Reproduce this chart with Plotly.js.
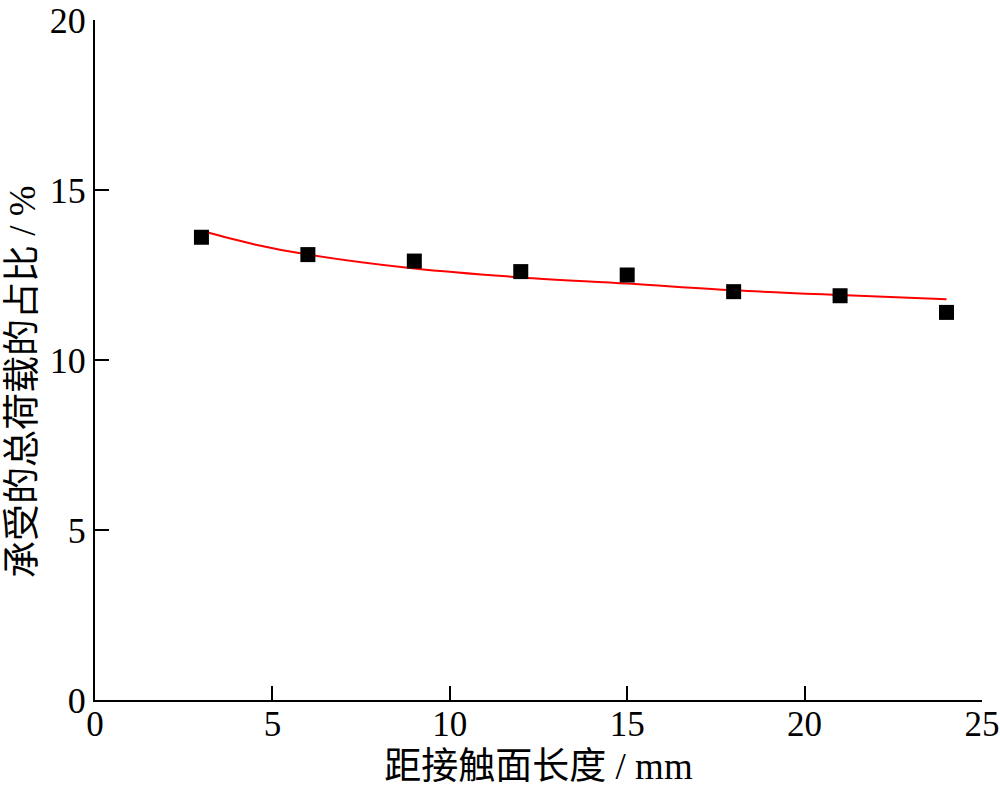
<!DOCTYPE html>
<html>
<head>
<meta charset="utf-8">
<script src="https://cdn.plot.ly/plotly-3.0.1.min.js"></script>
<style>html,body{margin:0;padding:0;background:#fff;}#chart{width:1000px;height:797px;}</style>
</head>
<body>
<div id="chart"></div>
<script>
// Measured data points
const distance = [3, 6, 9, 12, 15, 18, 21, 24];
const loadShare = [13.61, 13.10, 12.91, 12.60, 12.50, 12.01, 11.89, 11.40];
// Fitted curve, values
const fitX = [3, 4.5, 6, 9, 12, 15, 18, 21, 24];
const fitY = [13.80, 13.40, 13.10, 12.69, 12.43, 12.25, 12.05, 11.91, 11.79];

const xTicks = [0, 5, 10, 15, 20, 25];
const yTicks = [0, 5, 10, 15, 20];

const xTitle = '距接触面长度 / mm';
const yTitle = '承受的总荷载的占比 / %';

const FONT = "'Liberation Serif', 'Times New Roman', 'Noto Sans CJK SC', serif";

const traces = [
  {
    x: fitX, y: fitY, type: 'scatter', mode: 'lines',
    line: {color: '#ff0000', width: 2, shape: 'spline'},
    showlegend: false, hoverinfo: 'skip'
  },
  {
    x: distance, y: loadShare, type: 'scatter', mode: 'markers',
    marker: {symbol: 'square', size: 15, color: '#000000', line: {width: 0}},
    showlegend: false
  }
];

const layout = {
  width: 1000, height: 797,
  margin: {l: 95, r: 18, t: 20, b: 97},
  paper_bgcolor: '#ffffff', plot_bgcolor: '#ffffff',
  font: {family: FONT, size: 36, color: '#000'},
  xaxis: {
    range: [0, 25], tickvals: xTicks, ticktext: xTicks.map(String),
    showgrid: false, zeroline: false, showline: true, linecolor: '#000', linewidth: 2,
    ticks: 'inside', ticklen: 14, tickwidth: 2, tickcolor: '#000',
    ticklabeloverflow: 'allow', ticklabelstandoff: -8,
    tickfont: {family: FONT, size: 35, color: '#000'},
    title: {text: xTitle, font: {family: FONT, size: 37, color: '#000'}, standoff: 10},
    mirror: false
  },
  yaxis: {
    range: [0, 20], tickvals: yTicks, ticktext: yTicks.map(String),
    showgrid: false, zeroline: false, showline: true, linecolor: '#000', linewidth: 2,
    ticks: 'inside', ticklen: 14, tickwidth: 2, tickcolor: '#000',
    ticklabeloverflow: 'allow',
    tickfont: {family: FONT, size: 36, color: '#000'},
    mirror: false
  },
  annotations: [{
    text: yTitle, textangle: -90, showarrow: false,
    xref: 'paper', yref: 'paper', x: -0.082, y: 0.468,
    xanchor: 'center', yanchor: 'middle',
    font: {family: FONT, size: 37, color: '#000'}
  }]
};

Plotly.newPlot('chart', traces, layout, {displayModeBar: false, staticPlot: true});
</script>
</body>
</html>
